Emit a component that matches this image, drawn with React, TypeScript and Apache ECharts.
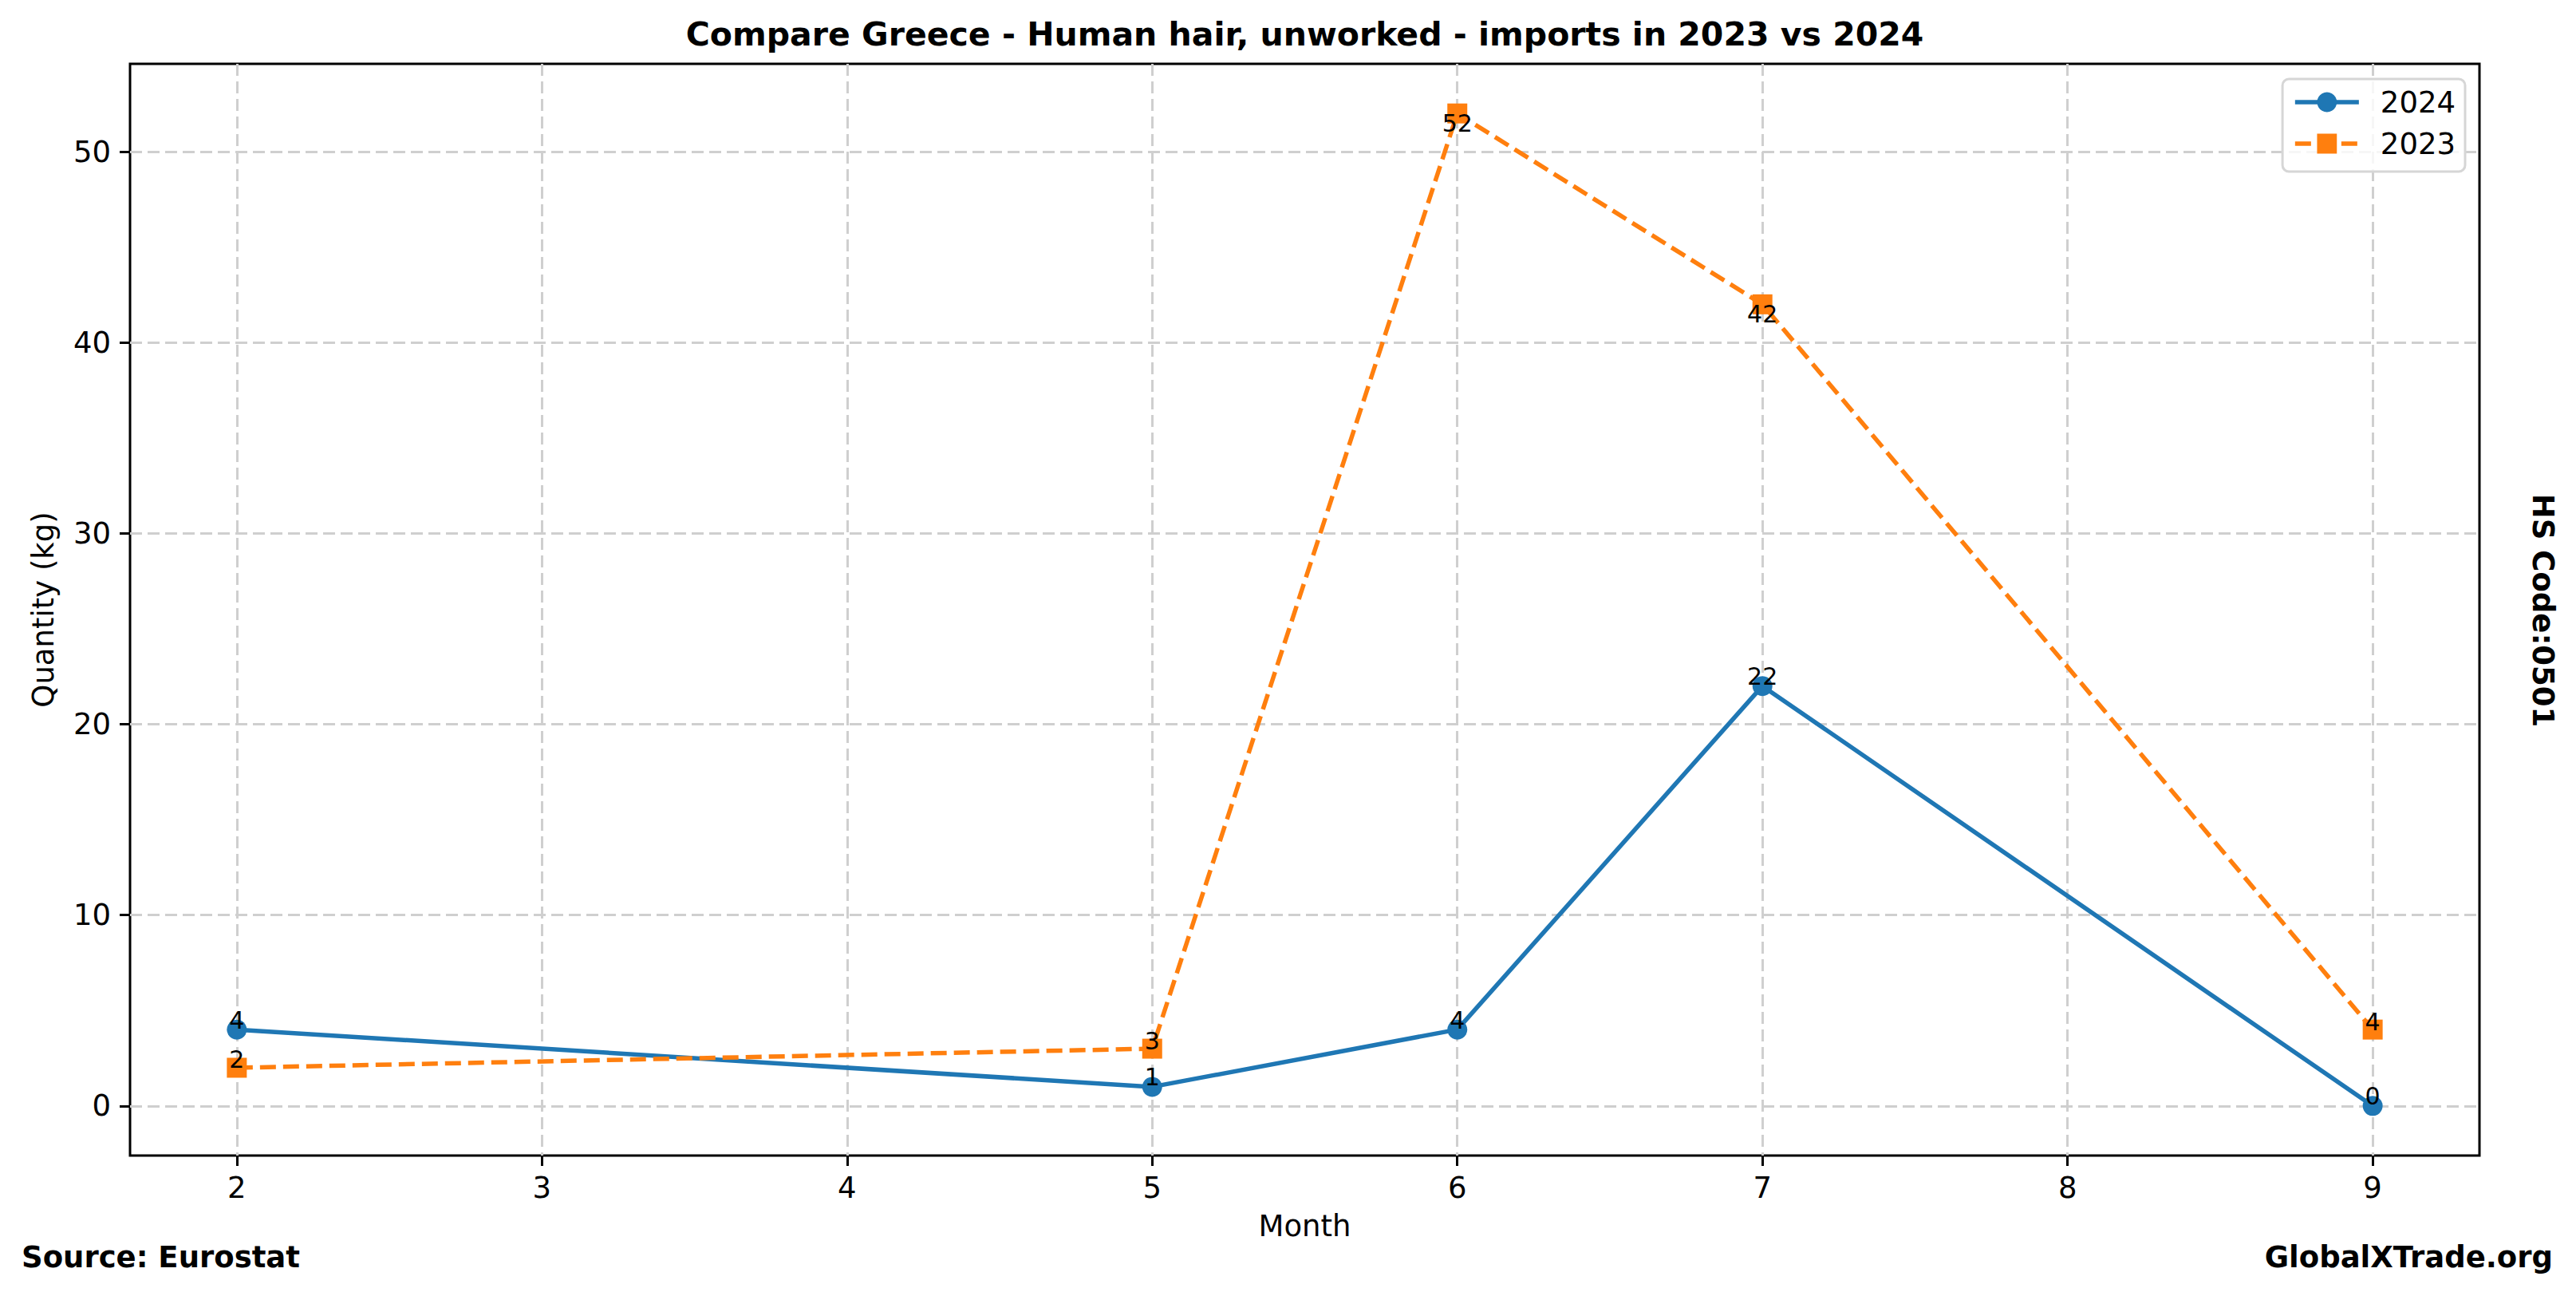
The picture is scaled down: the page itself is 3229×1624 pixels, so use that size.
import React, { useEffect, useRef } from "react";
import * as echarts from "echarts";

const months = [2, 5, 6, 7, 9];
const values2024 = [4, 1, 4, 22, 0];
const values2023 = [2, 3, 52, 42, 4];
const xTicks = [2, 3, 4, 5, 6, 7, 8, 9];
const yTicks = [0, 10, 20, 30, 40, 50];

const titleText = "Compare Greece - Human hair, unworked - imports in 2023 vs 2024";
const FONT = "DejaVu Sans";

export default function App() {
  const ref = useRef<HTMLDivElement>(null);
  useEffect(() => {
    document.body.style.margin = "0";
    const chart = echarts.init(ref.current!, null, { renderer: "svg" });
    const W = 3229;
    const gl = 163, gr = 121, gt = 80, gb = 176;
    const plotCx = gl + (W - gl - gr) / 2;

    const mk = (xs: number[], ys: number[]) => xs.map((x, i) => [x, ys[i]]);

    chart.setOption({
      animation: false,
      backgroundColor: "#ffffff",
      textStyle: { fontFamily: FONT },
      grid: {
        left: gl, right: gr, top: gt, bottom: gb,
        show: true, borderColor: "#000000", borderWidth: 3, backgroundColor: "transparent",
      },
      legend: {
        right: 139, top: 99,
        orient: "vertical",
        itemWidth: 80, itemHeight: 31, itemGap: 8,
        padding: [7, 12, 13, 13],
        backgroundColor: "rgba(255,255,255,0.8)",
        borderColor: "#d6d6d6", borderWidth: 3, borderRadius: 8,
        lineStyle: { width: 5.5 },
        textStyle: { fontFamily: FONT, fontSize: 37, color: "#000", padding: [0, 0, 0, 22], lineHeight: 44 },
        data: ["2024", "2023"],
      },
      xAxis: {
        type: "value",
        min: 1.65, max: 9.35,
        name: "Month", nameLocation: "middle", nameGap: 70,
        nameTextStyle: { fontFamily: FONT, fontSize: 37, color: "#000" },
        axisLine: { show: false, onZero: false },
        axisTick: { show: true, customValues: xTicks, length: 13, lineStyle: { color: "#000", width: 3 } },
        axisLabel: { customValues: xTicks, margin: 22, fontFamily: FONT, fontSize: 37, color: "#000" },
        splitLine: { show: true, lineStyle: { color: "#cfcfcf", width: 3, type: [15, 7] } },
      },
      yAxis: {
        type: "value",
        min: -2.6, max: 54.6,
        name: "Quantity (kg)", nameLocation: "middle", nameGap: 90,
        nameTextStyle: { fontFamily: FONT, fontSize: 37, color: "#000" },
        axisLine: { show: false, onZero: false },
        axisTick: { show: true, customValues: yTicks, length: 13, lineStyle: { color: "#000", width: 3 } },
        axisLabel: { customValues: yTicks, margin: 24, fontFamily: FONT, fontSize: 37, color: "#000" },
        splitLine: { show: true, lineStyle: { color: "#cfcfcf", width: 3, type: [15, 7] } },
      },
      series: [
        {
          name: "2024",
          type: "line",
          data: mk(months, values2024),
          symbol: "circle", symbolSize: 25,
          color: "#1f77b4",
          lineStyle: { color: "#1f77b4", width: 5.5 },
          itemStyle: { color: "#1f77b4" },
          label: {
            show: true, position: "inside", offset: [0, -12],
            fontFamily: FONT, fontSize: 30, color: "#000",
            formatter: (p: any) => String(p.value[1]),
          },
          z: 3,
        },
        {
          name: "2023",
          type: "line",
          data: mk(months, values2023).map((d) => ({
            value: d,
            label: { offset: [0, d[1] > 30 ? 12 : -10] },
          })),
          symbol: "rect", symbolSize: 25,
          color: "#ff7f0e",
          lineStyle: { color: "#ff7f0e", width: 5.5, type: [20, 9] },
          itemStyle: { color: "#ff7f0e" },
          label: {
            show: true, position: "inside",
            fontFamily: FONT, fontSize: 30, color: "#000",
            formatter: (p: any) => String(p.value[1]),
          },
          z: 4,
        },
      ],
      graphic: [
        {
          type: "text", x: plotCx, y: 43,
          style: { text: titleText, font: `bold 41px '${FONT}'`, fill: "#000", align: "center", verticalAlign: "middle" },
        },
        {
          type: "text", x: 27, y: 1575,
          style: { text: "Source: Eurostat", font: `bold 37px '${FONT}'`, fill: "#000", align: "left", verticalAlign: "middle" },
        },
        {
          type: "text", x: 3200, y: 1575,
          style: { text: "GlobalXTrade.org", font: `bold 37px '${FONT}'`, fill: "#000", align: "right", verticalAlign: "middle" },
        },
        {
          type: "text", x: 3187, y: 765, rotation: -Math.PI / 2,
          style: { text: "HS Code:0501", font: `bold 37px '${FONT}'`, fill: "#000", align: "center", verticalAlign: "middle" },
        },
      ],
    });
    return () => chart.dispose();
  }, []);
  return <div ref={ref} style={{ position: "fixed", left: 0, top: 0, width: 3229, height: 1624 }} />;
}
